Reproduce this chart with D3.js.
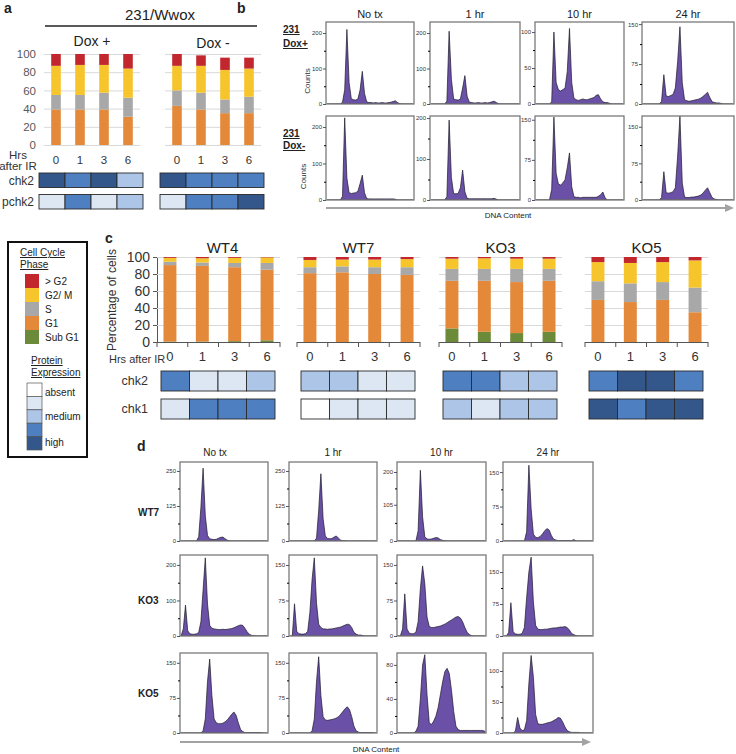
<!DOCTYPE html>
<html>
<head>
<meta charset="utf-8">
<script src="https://cdn.jsdelivr.net/npm/d3@7"></script>
<style>
  body { margin: 0; background: #fff; }
  text { font-family: "Liberation Sans", Arial, sans-serif; }
</style>
</head>
<body>
<script>
var width = 736,
    height = 754;

// ---- shared ----
var hours = ['0', '1', '3', '6'];
var phaseNames = ['Sub G1', 'G1', 'S', 'G2/ M', '> G2'];
var phaseColors = ['#6b8a3a', '#e4893a', '#a8a8a8', '#f6c52c', '#c1272d'];
var levelColors = ['#ffffff', '#dde7f4', '#adc5e7', '#4e7fc0', '#34578b'];
var levelNames = ['absent', '', 'medium', '', 'high'];

// ---- panel a: 231/Wwox ----
var aGroups = ['Dox +', 'Dox -'];
var aG1   = [[39, 39, 39, 31], [43, 39, 35, 35]];
var aS    = [[16, 16, 18.5, 21], [17, 18.5, 15, 18]];
var aG2M  = [[32, 33, 30.5, 32], [27, 29.5, 32.5, 31]];
var aGtG2 = [[13, 12, 12, 16], [13, 11.5, 13.5, 12]];
var aChk2  = [[4, 3, 4, 2], [4, 3, 3, 3]];
var aPchk2 = [[1, 3, 1, 2], [1, 3, 3, 4]];

// ---- panel c: clones ----
var cGroups = ['WT4', 'WT7', 'KO3', 'KO5'];
var cSubG1 = [[0.5, 0.5, 1, 2], [0, 0, 0, 0], [16, 12, 10.5, 12], [0, 0, 0, 0]];
var cG1    = [[90, 89, 87, 83], [81, 82, 80, 79], [56, 60, 60, 60], [49.5, 47, 49.5, 35]];
var cS     = [[4, 4, 5, 8], [7, 7, 8, 9], [14, 14, 15.5, 14], [22, 22, 21, 29]];
var cG2M   = [[4.5, 5, 6, 6.5], [8.5, 8, 9, 9.5], [12, 12.5, 12, 12], [22.5, 24, 23.5, 32]];
var cGtG2  = [[1, 1.5, 1, 0.5], [3.5, 3, 3, 2.5], [2, 1.5, 2, 2], [6, 7, 6, 4]];
var cChk2 = [[3, 1, 1, 2], [2, 2, 1, 1], [3, 3, 2, 2], [3, 4, 4, 3]];
var cChk1 = [[1, 3, 3, 3], [0, 1, 1, 1], [2, 1, 2, 2], [4, 3, 4, 4]];

// ---- histograms (40 channels of DNA content) ----
var times = ['No tx', '1 hr', '10 hr', '24 hr'];

var bRows = [['231', 'Dox+'], ['231', 'Dox-']];
var bHist = [
  [
    [0,0,0,0,0,0,0,5,40,210, 60,15,12,11,14,40,92,30,6,4, 4,3,4,3,3,4,3,3,4,5, 7,9,4,1,0,0,0,0,0,0],
    [0,0,0,0,0,0,0,8,205,70, 14,12,11,14,45,80,22,5,4,3, 3,4,3,3,4,3,4,6,8,4, 1,0,0,0,0,0,0,0,0,0],
    [0,0,0,0,0,0,0,3,100,30, 20,18,20,22,45,105,30,8,6,5, 6,7,6,6,7,8,9,12,13,7, 3,2,2,1,0,0,0,0,0,0],
    [0,0,0,0,0,0,0,0,5,55, 15,14,16,18,30,80,145,40,8,6, 5,6,7,8,9,11,14,18,22,12, 4,3,2,2,1,0,0,0,0,0]
  ],
  [
    [0,0,0,0,0,0,0,10,225,60, 20,18,19,20,24,45,68,20,4,3, 3,3,3,3,3,3,3,3,3,3, 3,2,0,0,0,0,0,0,0,0],
    [0,0,0,0,0,0,0,8,195,55, 16,15,16,30,73,20,4,3,3,3, 3,3,3,3,3,3,3,3,4,2, 0,0,0,0,0,0,0,0,0,0],
    [0,0,0,0,0,0,0,20,155,50, 30,28,32,38,60,88,25,6,5,5, 4,5,5,5,5,5,5,5,7,10, 15,4,0,0,0,0,0,0,0,0],
    [0,0,0,0,0,0,0,0,5,58, 15,14,15,17,25,90,172,35,6,5, 5,6,6,7,8,10,14,20,25,15, 5,2,1,0,0,0,0,0,0,0]
  ]
];
var bTicks = [
  [[0, 100, 200], [0, 100, 200], [0, 50, 100], [0, 75, 150]],
  [[0, 100, 200], [0, 100, 200], [0, 75, 150], [0, 75, 150]]
];
var bMax = [[231, 231, 114, 154], [230, 205, 157, 172]];

var dRows = ['WT7', 'KO3', 'KO5'];
var dHist = [
  [
    [0,0,0,0,0,0,0,0,15,120, 260,90,20,8,6,5,6,10,13,14, 8,3,1,0,0,0,0,0,0,0, 0,0,0,0,0,0,0,0,0,0],
    [0,0,0,0,0,0,0,0,0,0, 0,0,10,110,240,80,18,9,8,9, 14,18,10,3,1,1,0,0,0,0, 0,0,0,0,0,0,0,0,0,0],
    [0,0,0,0,0,0,0,0,0,30, 205,70,12,6,5,6,8,10,9,4, 2,1,0,0,0,0,0,0,0,0, 0,0,0,0,0,0,0,0,0,0],
    [0,0,0,0,0,0,0,0,0,0, 20,165,70,15,8,7,10,15,22,27, 24,12,4,2,1,1,1,1,1,1, 1,3,0,0,0,0,0,0,0,0]
  ],
  [
    [0,20,87,15,6,5,5,6,10,40, 130,220,90,30,22,20,19,18,18,19, 18,19,20,21,23,26,29,31,30,22, 12,5,2,1,0,0,0,0,0,0],
    [0,0,68,10,5,4,4,5,10,50, 120,165,70,25,18,15,15,14,15,15, 16,17,18,19,21,23,25,24,18,8, 4,2,2,1,0,0,0,0,0,0],
    [0,0,15,89,15,6,5,5,8,30, 100,148,110,40,20,18,18,19,20,21, 23,25,28,31,34,37,40,41,38,30, 18,8,3,1,0,0,0,0,0,0],
    [0,0,8,78,10,5,4,4,6,20, 90,150,185,80,25,16,15,15,16,16, 17,18,19,19,20,21,21,22,20,14, 6,3,1,0,0,0,0,0,0,0]
  ],
  [
    [0,0,0,0,0,0,0,0,0,0, 5,30,110,158,80,30,22,20,20,21, 24,28,34,40,45,38,22,8,3,1, 1,1,1,1,1,1,1,0,0,0],
    [0,0,0,0,0,0,0,0,0,0, 5,30,110,163,80,35,28,27,28,29, 30,32,35,40,46,52,56,50,35,15, 5,2,1,1,1,1,1,1,0,0],
    [0,0,0,0,0,0,0,0,2,8, 40,80,92,45,12,10,14,20,30,45, 60,72,76,70,50,25,8,4,3,3, 3,3,3,3,3,3,3,3,3,2],
    [0,0,0,0,0,3,25,8,4,5, 20,80,125,90,30,15,14,14,15,16, 17,18,20,22,25,24,18,10,4,2, 1,1,1,1,0,0,0,0,0,0]
  ]
];
var dTicks = [
  [[0, 125, 250], [0, 125, 250], [0, 105, 200], [0, 75, 150]],
  [[0, 100, 200], [0, 75, 150], [0, 75, 150], [0, 75, 150]],
  [[0, 75, 150], [0, 75, 150], [0, 40, 80], [0, 50, 100]]
];
var dMax = [[282, 282, 229, 172], [228, 171, 171, 190], [171, 171, 94, 129]];


var svg = d3.select('body')
  .append('svg')
  .attr('width', width)
  .attr('height', height);

function label(x, y, txt, size, o) {
  o = o || {};
  return svg.append('text')
    .attr('x', x).attr('y', y)
    .attr('font-size', size)
    .attr('text-anchor', o.anchor || 'start')
    .attr('font-weight', o.bold ? 'bold' : null)
    .attr('fill', o.fill || '#222')
    .style('text-decoration', o.underline ? 'underline' : null)
    .text(txt);
}

function makeRows(sub, g1, s, g2m, gt) {
  return hours.map(function(h, i) {
    var r = { hr: h };
    r['Sub G1'] = sub ? sub[i] : 0;
    r['G1'] = g1[i];
    r['S'] = s[i];
    r['G2/ M'] = g2m[i];
    r['> G2'] = gt[i];
    return r;
  });
}

// stacked bars for one group
function barGroup(x0, w, y, rows, padIn, padOut) {
  var x = d3.scaleBand().domain(hours).range([x0, x0 + w])
    .paddingInner(padIn).paddingOuter(padOut);
  var series = d3.stack().keys(phaseNames)(rows);
  svg.append('g')
    .selectAll('g')
    .data(series)
    .enter().append('g')
    .attr('fill', function(d, i) { return phaseColors[i]; })
    .selectAll('rect')
    .data(function(d) { return d; })
    .enter().append('rect')
    .attr('x', function(d) { return x(d.data.hr); })
    .attr('width', x.bandwidth())
    .attr('y', function(d) { return y(d[1]); })
    .attr('height', function(d) { return Math.max(0, y(d[0]) - y(d[1])); });
  return x;
}

function grid(x0, x1, y, vals) {
  svg.append('g')
    .selectAll('line')
    .data(vals)
    .enter().append('line')
    .attr('x1', x0).attr('x2', x1)
    .attr('y1', function(d) { return y(d) + 0.5; })
    .attr('y2', function(d) { return y(d) + 0.5; })
    .attr('stroke', '#d9d9d9');
}

function heatRow(x0, x1, y0, h, levels) {
  var x = d3.scaleBand().domain(hours).range([x0, x1]);
  svg.append('g')
    .selectAll('rect')
    .data(levels)
    .enter().append('rect')
    .attr('x', function(d, i) { return x(hours[i]); })
    .attr('y', y0)
    .attr('width', x.bandwidth())
    .attr('height', h)
    .attr('fill', function(d) { return levelColors[d]; })
    .attr('stroke', '#2b2b2b')
    .attr('stroke-width', 0.9);
}

var clipN = 0;
function histogram(fx, fy, fw, fh, counts, yMax, ticks) {
  var x = d3.scaleLinear().domain([0, counts.length]).range([fx, fx + fw]);
  var y = d3.scaleLinear().domain([0, yMax]).range([fy + fh, fy]);
  var id = 'clip' + (clipN++);
  svg.append('clipPath').attr('id', id)
    .append('rect').attr('x', fx).attr('y', fy).attr('width', fw).attr('height', fh);
  var area = d3.area()
    .x(function(d, i) { return x(i + 0.5); })
    .y0(y(0))
    .y1(function(d) { return y(d); });
  svg.append('path')
    .datum(counts)
    .attr('clip-path', 'url(#' + id + ')')
    .attr('d', area)
    .attr('fill', '#6a50a7')
    .attr('stroke', '#1d1a2a')
    .attr('stroke-width', 0.7)
    .attr('stroke-linejoin', 'round');
  svg.append('rect')
    .attr('x', fx).attr('y', fy).attr('width', fw).attr('height', fh)
    .attr('fill', 'none').attr('stroke', '#7a7a7a').attr('stroke-width', 1.3);

  var minor = [];
  for (var i = 0; i < ticks.length - 1; i++) minor.push((ticks[i] + ticks[i + 1]) / 2);
  var ax = svg.append('g')
    .attr('transform', 'translate(' + fx + ',0)')
    .call(d3.axisLeft(y).tickValues(ticks).tickSize(3).tickPadding(1));
  ax.select('.domain').remove();
  ax.selectAll('text').attr('font-size', 6).attr('fill', '#333');
  ax.selectAll('line').attr('stroke', '#555');
  svg.append('g')
    .attr('transform', 'translate(' + fx + ',0)')
    .call(d3.axisLeft(y).tickValues(minor).tickSize(2).tickFormat(''))
    .select('.domain').remove();
}

function arrow(x0, x1, y, txt, tx) {
  svg.append('line')
    .attr('x1', x0).attr('x2', x1 - 6).attr('y1', y).attr('y2', y)
    .attr('stroke', '#a3a3a3').attr('stroke-width', 2);
  svg.append('path')
    .attr('d', 'M' + (x1 - 9) + ',' + (y - 4) + 'L' + x1 + ',' + y + 'L' + (x1 - 9) + ',' + (y + 4) + 'Z')
    .attr('fill', '#a3a3a3');
  label(tx, y + 10, txt, 8, { anchor: 'middle' });
}

// ================= panel a =================
label(4, 13, 'a', 14, { bold: true });
label(160, 20, '231/Wwox', 15, { anchor: 'middle' });
svg.append('line').attr('x1', 45).attr('x2', 257).attr('y1', 26).attr('y2', 26)
  .attr('stroke', '#222').attr('stroke-width', 1.5);

var aY = d3.scaleLinear().domain([0, 100]).range([145, 54]);
var aX0 = [44, 165];

svg.append('g')
  .attr('transform', 'translate(40,0)')
  .call(d3.axisLeft(aY).tickValues(d3.range(0, 101, 20)).tickSize(0).tickPadding(4))
  .call(function(g) {
    g.select('.domain').remove();
    g.selectAll('text').attr('font-size', 11.5).attr('fill', '#595959');
  });

aGroups.forEach(function(name, gi) {
  var x0 = aX0[gi];
  grid(x0, x0 + 96, aY, d3.range(0, 101, 20));
  var x = barGroup(x0, 96, aY, makeRows(null, aG1[gi], aS[gi], aG2M[gi], aGtG2[gi]), 0.6, 0.3);
  label(x0 + 48, gi ? 48 : 46, name, 14, { anchor: 'middle' });
  svg.append('g')
    .attr('transform', 'translate(0,153)')
    .call(d3.axisBottom(x).tickSize(0).tickPadding(3))
    .call(function(g) {
      g.select('.domain').remove();
      g.selectAll('text').attr('font-size', 11.5).attr('fill', '#333');
    });
  heatRow(x0 - 5, x0 + 99, 173, 14.5, aChk2[gi]);
  heatRow(x0 - 5, x0 + 99, 194.5, 14.5, aPchk2[gi]);
});
label(18, 159, 'Hrs', 11.5, { anchor: 'middle', fill: '#333' });
label(18, 170, 'after IR', 11.5, { anchor: 'middle', fill: '#333' });
label(34, 185, 'chk2', 12, { anchor: 'end', fill: '#333' });
label(34, 206, 'pchk2', 12, { anchor: 'end', fill: '#333' });

// ================= panel b =================
label(237, 13, 'b', 14, { bold: true });
var bCols = [[326, 88], [430, 90], [535, 89], [642, 92]];
var bRowY = [[22, 82], [116, 84]];
times.forEach(function(t, ci) {
  label(bCols[ci][0] + bCols[ci][1] / 2, 18, t, 11, { anchor: 'middle' });
});
bRows.forEach(function(r, ri) {
  var ry = bRowY[ri];
  label(283, ry[0] + (ri ? 21 : 11), r[0], 10, { bold: true, underline: true });
  label(283, ry[0] + (ri ? 33 : 25), r[1], 10, { bold: true, underline: true });
  svg.append('text')
    .attr('transform', 'translate(' + (ri ? 306 : 310) + ',' + (ry[0] + ry[1] * 0.72) + ') rotate(-90)')
    .attr('text-anchor', 'middle').attr('font-size', 8).attr('fill', '#333')
    .text('Counts');
  bCols.forEach(function(c, ci) {
    histogram(c[0], ry[0], c[1], ry[1], bHist[ri][ci], bMax[ri][ci], bTicks[ri][ci]);
  });
});
arrow(326, 734, 208, 'DNA Content', 508);

// ================= legend =================
svg.append('rect').attr('x', 8).attr('y', 242).attr('width', 79).attr('height', 215)
  .attr('fill', 'none').attr('stroke', '#111').attr('stroke-width', 2);
label(20, 256, 'Cell Cycle', 10, { underline: true });
label(20, 268, 'Phase', 10, { underline: true });
var legY = d3.scaleBand().domain(phaseNames.slice().reverse()).range([274, 344]);
phaseNames.slice().reverse().forEach(function(p) {
  svg.append('rect').attr('x', 25).attr('y', legY(p)).attr('width', 14).attr('height', legY.bandwidth())
    .attr('fill', phaseColors[phaseNames.indexOf(p)]);
  label(45, legY(p) + legY.bandwidth() / 2 + 3.5, p, 10);
});
label(31, 364, 'Protein', 10, { underline: true });
label(31, 376, 'Expression', 10, { underline: true });
var levY = d3.scaleBand().domain(d3.range(5)).range([383, 450]);
levelColors.forEach(function(c, i) {
  svg.append('rect').attr('x', 27).attr('y', levY(i)).attr('width', 15).attr('height', levY.bandwidth())
    .attr('fill', c).attr('stroke', '#555').attr('stroke-width', 0.7);
  if (levelNames[i]) label(45, levY(i) + levY.bandwidth() / 2 + (i === 0 ? 6 : i === 4 ? 3 : 3.5), levelNames[i], 10);
});

// ================= panel c =================
label(105, 243, 'c', 14, { bold: true });
var cY = d3.scaleLinear().domain([0, 100]).range([342, 257]);
var cX0 = [157, 297, 439, 585];
var cW = 123;

svg.append('g')
  .attr('transform', 'translate(' + cX0[0] + ',0)')
  .call(d3.axisLeft(cY).tickValues(d3.range(0, 101, 20)).tickSize(4).tickSizeOuter(0).tickPadding(3))
  .call(function(g) {
    g.selectAll('text').attr('font-size', 14).attr('fill', '#333');
    g.selectAll('line, path').attr('stroke', '#555');
  });
svg.append('text')
  .attr('transform', 'translate(116,300) rotate(-90)')
  .attr('text-anchor', 'middle').attr('font-size', 12).attr('fill', '#333')
  .text('Percentage of cells');

cGroups.forEach(function(name, gi) {
  var x0 = cX0[gi];
  grid(x0, x0 + cW, cY, d3.range(20, 101, 20));
  var x = barGroup(x0, cW, cY,
    makeRows(cSubG1[gi], cG1[gi], cS[gi], cG2M[gi], cGtG2[gi]), 0.6, 0.2);
  // baseline with category-boundary ticks
  var edges = d3.range(0, 5).map(function(i) { return x0 + i * cW / 4; });
  svg.append('line').attr('x1', x0).attr('x2', x0 + cW).attr('y1', 342.5).attr('y2', 342.5)
    .attr('stroke', '#555');
  svg.append('g').selectAll('line').data(edges).enter().append('line')
    .attr('x1', function(d) { return d; }).attr('x2', function(d) { return d; })
    .attr('y1', 342).attr('y2', 347).attr('stroke', '#555');
  svg.append('g')
    .attr('transform', 'translate(0,350)')
    .call(d3.axisBottom(x).tickSize(0).tickPadding(2))
    .call(function(g) {
      g.select('.domain').remove();
      g.selectAll('text').attr('font-size', 13).attr('fill', '#333');
    });
  label(x0 + cW / 2 + (gi === 0 ? 4 : 0), 253, name, 15, { anchor: 'middle' });
  heatRow(x0 + 4, x0 + 118, 371, 20, cChk2[gi]);
  heatRow(x0 + 4, x0 + 118, 399, 20, cChk1[gi]);
});
label(109, 363, 'Hrs after IR', 11, { fill: '#333' });
label(148, 385, 'chk2', 12.5, { anchor: 'end', fill: '#333' });
label(148, 413, 'chk1', 12.5, { anchor: 'end', fill: '#333' });

// ================= panel d =================
label(137, 451, 'd', 14, { bold: true });
var dCols = [[180, 88], [289, 88], [397, 89], [503, 90]];
var dRowY = [[462, 79], [555, 81], [653, 80]];
var dLabelY = [516, 604, 697];
times.forEach(function(t, ci) {
  label(dCols[ci][0] + dCols[ci][1] / 2 - (ci === 0 ? 9 : 0), 456, t, 10, { anchor: 'middle' });
});
dRows.forEach(function(r, ri) {
  var ry = dRowY[ri];
  label(138, dLabelY[ri], r, 10, { bold: true });
  dCols.forEach(function(c, ci) {
    histogram(c[0], ry[0], c[1], ry[1], dHist[ri][ci], dMax[ri][ci], dTicks[ri][ci]);
  });
});
arrow(180, 591, 742, 'DNA Content', 376);
</script>
</body>
</html>
